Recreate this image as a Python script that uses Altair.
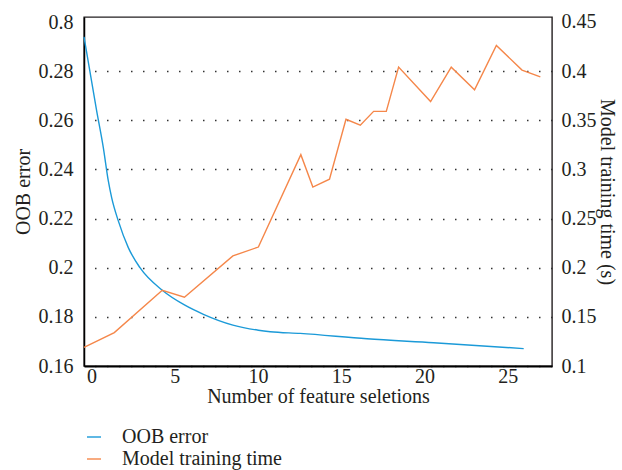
import altair as alt
import pandas as pd

# OOB error curve (left axis)
oob_x = [-0.45, 0.31, 0.71, 1.01, 1.21, 1.61, 2.21, 2.91, 4.25, 5.58, 6.72,
         8.49, 10.02, 10.73, 12.53, 16.54, 20.54, 25.95]
oob_y = [0.2943, 0.2641, 0.2491, 0.2355, 0.2287, 0.2192, 0.2083, 0.2001,
         0.1909, 0.1849, 0.1811, 0.1767, 0.1746, 0.1740, 0.1733, 0.1711,
         0.1695, 0.1671]

# Model training time (right axis, seconds)
time_x = [-0.45, 1.37, 4.25, 5.58, 8.49, 10.02, 12.57, 13.29, 14.29, 15.28,
          16.14, 16.94, 17.70, 18.44, 20.36, 21.60, 23.0, 24.31, 25.85, 26.95]
time_y = [0.119, 0.134, 0.177, 0.170, 0.212, 0.221, 0.315, 0.282, 0.290,
          0.351, 0.345, 0.359, 0.359, 0.404, 0.369, 0.404, 0.381, 0.426,
          0.401, 0.394]

series_names = ["OOB error", "Model training time"]
series_colors = ["#1b9ad8", "#f5874a"]

x_ticks = [0, 5, 10, 15, 20, 25]
left_ticks = [0.16, 0.18, 0.20, 0.22, 0.24, 0.26, 0.28, 0.30]
right_ticks = [0.10, 0.15, 0.20, 0.25, 0.30, 0.35, 0.40, 0.45]

oob_df = pd.DataFrame({"x": oob_x, "v": oob_y, "s": series_names[0]})
time_df = pd.DataFrame({"x": time_x, "v": time_y, "s": series_names[1]})

FONT = "Liberation Serif"
FS = 20
INK = "#231f20"

x_enc = alt.X(
    "x:Q",
    scale=alt.Scale(domain=[-0.45, 27.65], nice=False, zero=False),
    axis=alt.Axis(
        title="Number of feature seletions",
        values=x_ticks,
        ticks=False,
        grid=False,
        labelPadding=0,
        titlePadding=0,
        domainColor="#000000",
        domainWidth=2,
    ),
)

color_enc = alt.Color(
    "s:N",
    scale=alt.Scale(domain=series_names, range=series_colors),
    legend=alt.Legend(
        title=None,
        orient="none",
        legendX=0,
        legendY=410,
        direction="vertical",
        symbolType="stroke",
        symbolStrokeWidth=1.4,
        symbolSize=196,
        labelFont=FONT,
        labelFontSize=FS,
        labelColor=INK,
        labelOffset=18,
        rowPadding=2,
        padding=0,
    ),
)

oob_line = alt.Chart(oob_df).mark_line(strokeWidth=1.4, interpolate="monotone").encode(
    x=x_enc,
    y=alt.Y(
        "v:Q",
        scale=alt.Scale(domain=[0.16, 0.3024], nice=False, zero=False),
        axis=alt.Axis(
            title="OOB error",
            orient="left",
            values=left_ticks,
            labelExpr="datum.value > 0.299 ? '0.8' : format(datum.value, '~g')",
            ticks=False,
            grid=False,
            labelPadding=11,
            titlePadding=5,
            domainColor="#000000",
            domainWidth=1.5,
        ),
    ),
    color=color_enc,
)

time_line = alt.Chart(time_df).mark_line(strokeWidth=1.4).encode(
    x=x_enc,
    y=alt.Y(
        "v:Q",
        scale=alt.Scale(domain=[0.1, 0.455], nice=False, zero=False),
        axis=alt.Axis(
            title="Model training time (s)",
            orient="right",
            values=right_ticks,
            labelExpr="format(datum.value, '~g')",
            ticks=False,
            grid=True,
            gridColor="#333333",
            gridDash=[1.5, 10.5],
            gridWidth=1.3,
            gridOpacity={"condition": {"test": "datum.value > 0.44", "value": 0}, "value": 1},
            titleAngle=90,
            labelPadding=9,
            titlePadding=0,
            domain=False,
        ),
    ),
    color=color_enc,
)

chart = (
    alt.layer(oob_line, time_line)
    .resolve_scale(y="independent")
    .properties(
        width=468,
        height=349,
        autosize=alt.AutoSizeParams(type="none"),
        padding={"left": 84, "top": 17, "right": 70, "bottom": 104},
    )
    .configure_view(stroke=INK, strokeWidth=1.4)
    .configure_axis(
        labelFont=FONT,
        labelFontSize=FS,
        labelColor=INK,
        titleFont=FONT,
        titleFontSize=FS,
        titleFontWeight="normal",
        titleColor=INK,
    )
)

chart.save("out.html", embed_options={"renderer": "svg", "actions": False})
